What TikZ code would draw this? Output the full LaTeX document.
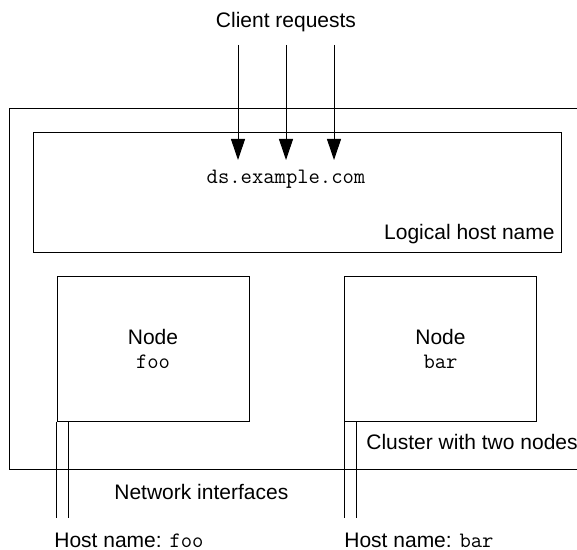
\documentclass[tikz,border=0pt]{standalone}
\usepackage{fontspec}
\setmainfont{Liberation Sans}
\usetikzlibrary{arrows.meta, positioning}

\newcommand{\hname}[1]{{\fontsize{11}{12}\selectfont\ttfamily #1}}

\begin{document}
\begin{tikzpicture}[x=0.5pt, y=-0.5pt,
  every node/.style={font=\fontsize{10.5}{12}\selectfont, inner sep=0pt},
  box/.style={draw, line width=0.5pt},
  hostbox/.style={box, minimum width=96pt, minimum height=72pt, align=center},
  wire/.style={line width=0.5pt},
  request/.style={line width=0.5pt, -{Triangle[width=7pt,length=10.5pt]}}]
\useasboundingbox (0,0) rectangle (577,550);
\clip (0,0) rectangle (577,550);

% Cluster (runs off the right edge)
\draw[wire] (9,109) rectangle (620,469);
\node[anchor=base west] (cluster) at (366,449) {Cluster with two nodes};

% Logical host name
\node[box, minimum width=264pt, minimum height=60pt] (logical) at (297,193) {};
\node[anchor=base] (dsname) at (286,184) {\hname{ds.example.com}};
\node[anchor=base east] (lname) at (555,240) {Logical host name};

% Client requests
\node[anchor=base] (clients) at (286,28) {Client requests};
\foreach \x/\n in {238/a, 286/b, 334/c} {
    \coordinate (src\n) at (\x,45);
    \coordinate (dst\n) at (\x,160);
    \draw[request] (src\n) -- (dst\n);
}

% The two nodes
\node[hostbox] (foo) at (153,349) {Node\\\hname{foo}};
\node[hostbox] (bar) at (440.5,349) {Node\\\hname{bar}};

% Network interfaces
\foreach \h in {foo, bar} {
    \draw[wire] (\h.south west) -- ++(0,96);
    \draw[wire] ([xshift=6pt]\h.south west) -- ++(0,96);
}
\node[anchor=base west] (netif) at (114,499) {Network interfaces};

% Host names
\node[anchor=base west] (foohost) at (54,547) {Host name: \hname{foo}};
\node[anchor=base west] (barhost) at (344,547) {Host name: \hname{bar}};
\end{tikzpicture}
\end{document}
